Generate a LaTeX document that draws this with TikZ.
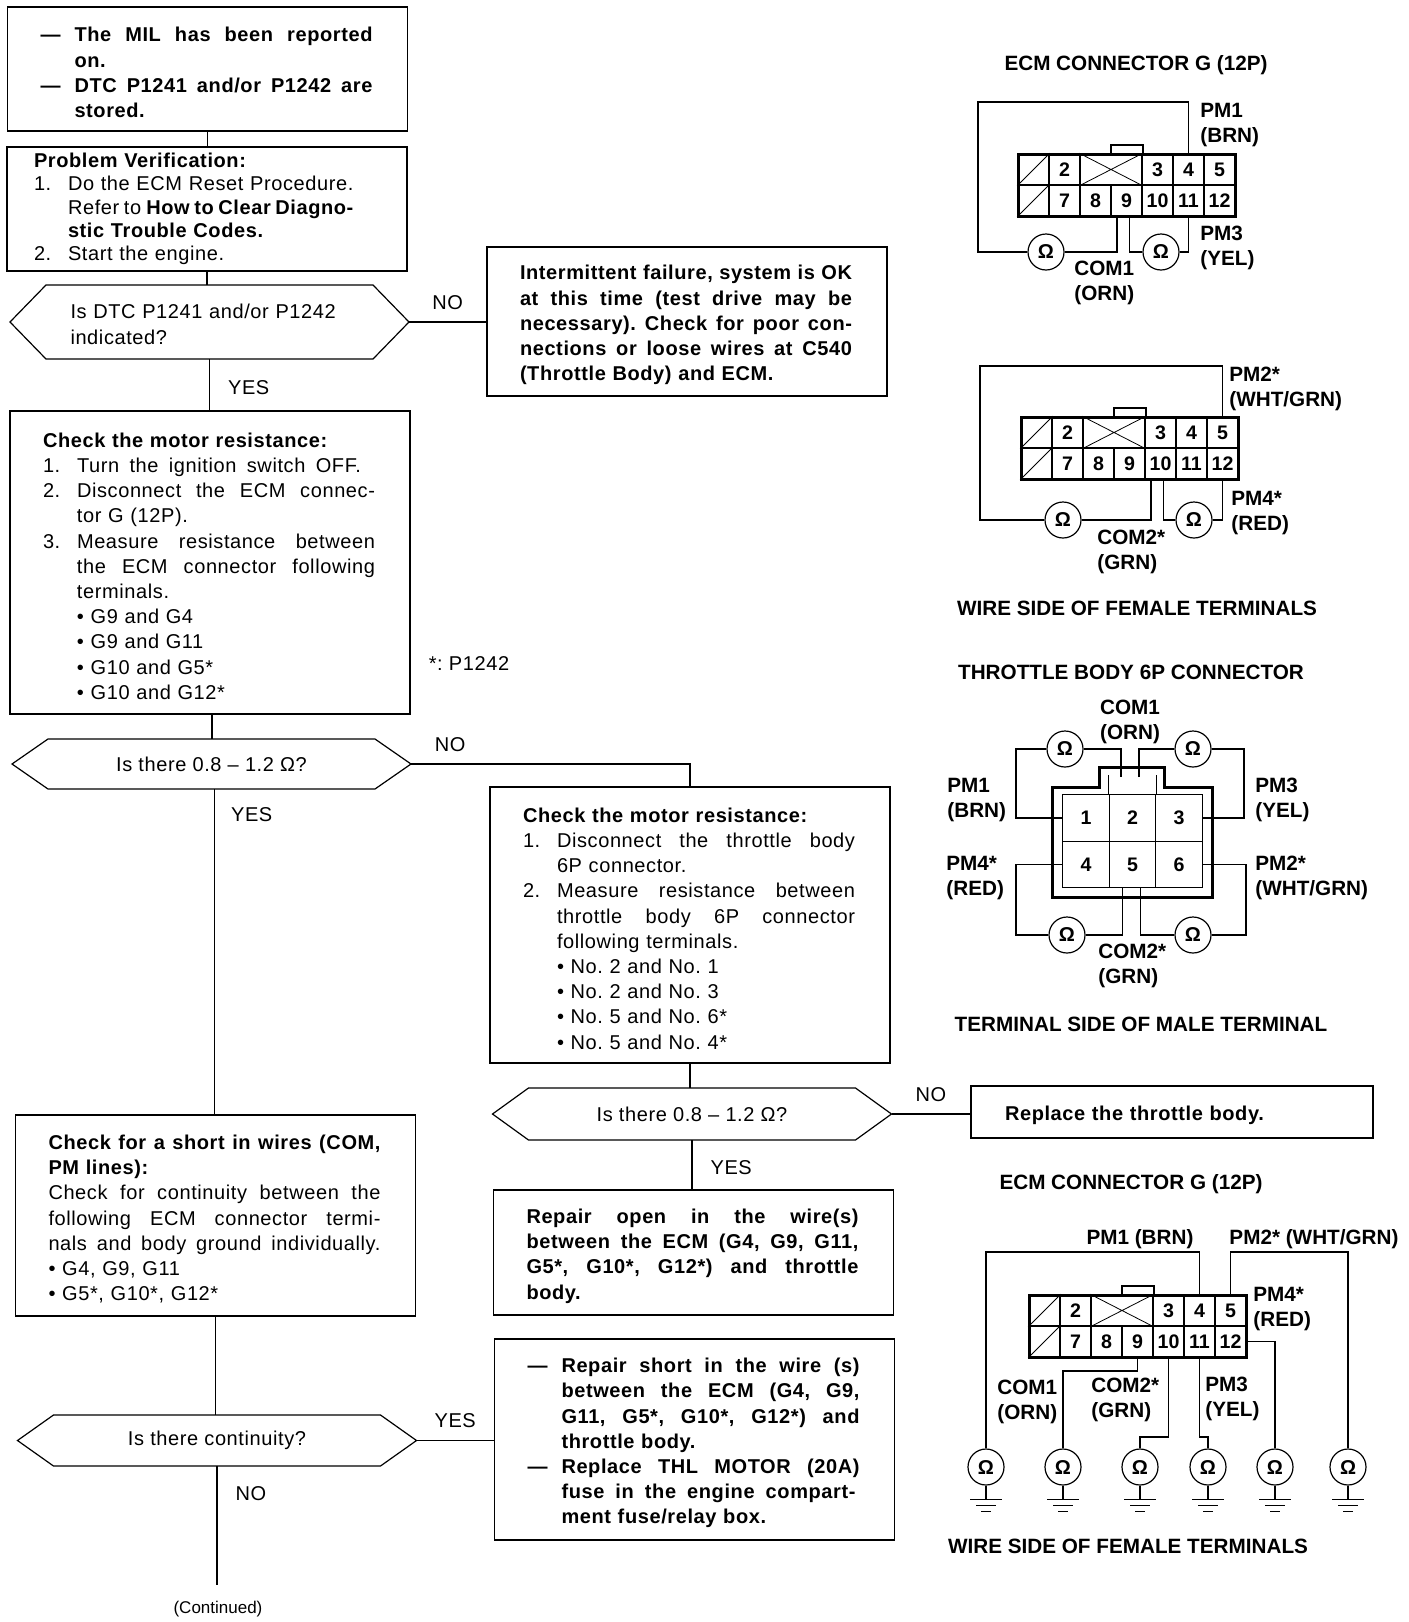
\documentclass[tikz,border=0pt]{standalone}
\usepackage{fontspec}
\setmainfont[LetterSpace=3]{Liberation Sans}
\newfontfamily\lblfont{Liberation Sans}
\newcommand{\lnum}[2]{\makebox[17pt][l]{#1}#2}
\newcommand{\indl}{\hspace*{17pt}}
\newcommand{\jl}[2]{\leavevmode\hbox to #1{\spaceskip=.3em plus 1fil minus .1em\relax #2}}
\frenchspacing
\tikzset{
  conntwelve/.pic={
    % upper and lower row of cells
    \foreach \n/\cx/\cy in {2/1/0,3/4/0,4/5/0,5/6/0,7/1/1,8/2/1,9/3/1,10/4/1,11/5/1,12/6/1}
      \node[cell] (-p\n) at (15.5+31*\cx,15.5+31*\cy) {\n};
    \node[cell,minimum width=31pt] (-px) at (93,15.5) {};
    \draw[thin] (-px.south west) -- (-px.north east) (-px.north west) -- (-px.south east);
    \node[cell] (-pa) at (15.5,15.5) {};
    \node[cell] (-pb) at (15.5,46.5) {};
    \draw[thin] (-pa.south west) -- (-pa.north east) (-pb.south west) -- (-pb.north east);
    \draw[conn] (0,0) rectangle (217,62);
    \draw[semithick] (93,0) -- (93,-9) -- (125,-9) -- (125,0);
  },
  gndsym/.pic={
    \draw[wire] (0,0) -- (0,14);
    \draw[wire] (-16,14) -- (16,14);
    \draw[wire] (-10,20) -- (10,20);
    \draw[wire] (-5,26) -- (5,26);
  }
}
\begin{document}
\begin{tikzpicture}[
      x=0.5pt, y=-0.5pt,
      font=\fontsize{10}{12.6}\selectfont,
      box/.style={draw, line width=0.6pt, minimum width=200pt, text width=167pt,
                  inner xsep=16.5pt, inner ysep=0pt, align=left,
                  execute at begin node={\rule{0pt}{10.8pt}}},
      thickbox/.style={draw, line width=1.3pt, minimum width=200pt, text width=173pt,
                  inner xsep=13.5pt, inner ysep=0pt, align=left},
      hexbox/.style={inner sep=0pt, outer sep=0pt, minimum width=199.5pt, align=center,
                  append after command={\pgfextra{\draw[line width=0.6pt]
                    (\tikzlastnode.west) -- ([xshift=18pt]\tikzlastnode.north west)
                    -- ([xshift=-18pt]\tikzlastnode.north east) -- (\tikzlastnode.east)
                    -- ([xshift=-18pt]\tikzlastnode.south east)
                    -- ([xshift=18pt]\tikzlastnode.south west) -- cycle;}}},
      arr/.style={line width=0.6pt},
      lab/.style={inner sep=2pt},
      ttl/.style={font=\lblfont\fontsize{10.35}{12.5}\selectfont\bfseries, inner sep=0pt, align=center, yshift=-1pt},
      tag/.style={ttl, align=left, anchor=west},
      cell/.style={draw, line width=0.8pt, minimum width=15.5pt, minimum height=15.5pt, inner sep=0pt,
                  font=\lblfont\fontsize{9.8}{12}\selectfont\bfseries},
      conn/.style={line width=1.5pt},
      wire/.style={line width=0.7pt},
      ohmc/.style={draw, circle, line width=0.6pt, minimum size=18pt, inner sep=0pt, fill=white,
                  font=\lblfont\fontsize{10}{12}\selectfont\bfseries}
    ]
    \useasboundingbox (0,0) rectangle (1408,1622);
    % Flow boxes
    \node[box,minimum height=62pt] (mil) at (207.5,69)
      {\bfseries\lnum{---}{\jl{149pt}{The MIL has been reported}}\\\indl on.\\\lnum{---}{\jl{149pt}{DTC P1241 and/or P1242 are}}\\\indl stored.};
    \node[thickbox,minimum height=62pt,font=\fontsize{10}{11.7}\selectfont] (verify) at (207,209)
      {\textbf{Problem Verification:}\\\lnum{1.}{Do the ECM Reset Procedure.}\\\indl\jl{143pt}{Refer to \textbf{How to Clear Diagno-}}\\\indl\textbf{stic Trouble Codes.}\\\lnum{2.}{Start the engine.}};
    \node[hexbox,minimum height=37pt,text width=139pt,align=left,execute at begin node={\rule{0pt}{9.6pt}}] (dtc) at (209.5,322)
      {Is DTC P1241 and/or P1242\\indicated?};
    \node[box,minimum height=74.5pt] (okbox) at (687,321.5)
      {\bfseries\jl{166pt}{Intermittent failure, system is OK}\\\jl{166pt}{at this time (test drive may be}\\\jl{166pt}{necessary). Check for poor con-}\\\jl{166pt}{nections or loose wires at C540}\\(Throttle Body) and ECM.};
    \node[box,minimum height=151.5pt] (motor) at (210,562.5)
      {\textbf{Check the motor resistance:}\\\lnum{1.}{\jl{142pt}{Turn the ignition switch OFF.}}\\\lnum{2.}{\jl{149pt}{Disconnect the ECM connec-}}\\\indl tor G (12P).\\\lnum{3.}{\jl{149pt}{Measure resistance between}}\\\indl\jl{149pt}{the ECM connector following}\\\indl terminals.\\\indl • G9 and G4\\\indl • G9 and G11\\\indl • G10 and G5*\\\indl • G10 and G12*};
    \node[lab] (star) at (469,664) {*: P1242};
    \node[hexbox,minimum height=25pt] (ohm) at (211.5,764)
      {Is there 0.8 -- 1.2 Ω?};
    \node[box,minimum height=138pt] (motorsix) at (690,925)
      {\textbf{Check the motor resistance:}\\\lnum{1.}{\jl{149pt}{Disconnect the throttle body}}\\\indl 6P connector.\\\lnum{2.}{\jl{149pt}{Measure resistance between}}\\\indl\jl{149pt}{throttle body 6P connector}\\\indl following terminals.\\\indl • No. 2 and No. 1\\\indl • No. 2 and No. 3\\\indl • No. 5 and No. 6*\\\indl • No. 5 and No. 4*};
    \node[hexbox,minimum height=26pt] (ohmsix) at (692,1114)
      {Is there 0.8 -- 1.2 Ω?};
    \node[box,minimum width=201pt,minimum height=26pt] (replace) at (1172,1112)
      {\bfseries Replace the throttle body.};
    \node[box,minimum height=62.5pt] (openw) at (693.5,1252.5)
      {\bfseries\jl{166pt}{Repair open in the wire(s)}\\\jl{166pt}{between the ECM (G4, G9, G11,}\\\jl{166pt}{G5*, G10*, G12*) and throttle}\\body.};
    \node[box,minimum height=100.5pt] (shortw) at (215.5,1215.5)
      {\textbf{\jl{166pt}{Check for a short in wires (COM,}}\\\textbf{PM lines):}\\\jl{166pt}{Check for continuity between the}\\\jl{166pt}{following ECM connector termi-}\\\jl{166pt}{nals and body ground individually.}\\• G4, G9, G11\\• G5*, G10*, G12*};
    \node[hexbox,minimum height=25.5pt] (contin) at (217,1440.5)
      {Is there continuity?};
    \node[box,minimum height=100.5pt] (repair) at (694.5,1439.5)
      {\bfseries\lnum{---}{\jl{149pt}{Repair short in the wire (s)}}\\\indl\jl{149pt}{between the ECM (G4, G9,}\\\indl\jl{149pt}{G11, G5*, G10*, G12*) and}\\\indl throttle body.\\\lnum{---}{\jl{149pt}{Replace THL MOTOR (20A)}}\\\indl\jl{147pt}{fuse in the engine compart-}\\\indl ment fuse/relay box.};
    \node[font=\lblfont\fontsize{8.5}{10}\selectfont,inner sep=0pt] (contd) at (218,1609) {(Continued)};
    \coordinate (contend) at (216,1585);
    % Flow arrows
    \draw[arr] (mil.south) -- (mil.south |- verify.north);
    \draw[arr] (verify.south) -- (verify.south |- dtc.north);
    \draw[arr] (dtc.east) -- node[lab,above,pos=.5,yshift=4pt]{NO} (dtc.east -| okbox.west);
    \draw[arr] (dtc.south) -- node[lab,right,xshift=7pt,pos=.55]{YES} (dtc.south |- motor.north);
    \draw[arr] ([xshift=1pt]motor.south) -- ([xshift=1pt]motor.south |- ohm.north);
    \draw[arr] (ohm.east) -| node[lab,above,pos=.07,yshift=4pt]{NO} (motorsix.north);
    \draw[arr] ([xshift=1.5pt]ohm.south) -- node[lab,right,xshift=6pt,pos=.08]{YES} ([xshift=1.5pt]ohm.south |- shortw.north);
    \draw[arr] (motorsix.south) -- (motorsix.south |- ohmsix.north);
    \draw[arr] (ohmsix.east) -- node[lab,above,yshift=4pt]{NO} (ohmsix.east -| replace.west);
    \draw[arr] (ohmsix.south) -- node[lab,right,xshift=7pt,yshift=-1.5pt]{YES} (ohmsix.south |- openw.north);
    \draw[arr] (shortw.south) -- (shortw.south |- contin.north);
    \draw[arr] (contin.east) -- node[lab,above,yshift=4pt]{YES} (contin.east -| repair.west);
    \draw[arr] (contin.south) -- node[lab,right,xshift=7pt,pos=.23]{NO} (contin.south |- contend);
    % ECM connector, COM1 set
    \node[ttl] (ttlone) at (1136,63) {ECM CONNECTOR G (12P)};
    \pic (gone) at (1018,154) {conntwelve};
    \node[ohmc] (oa) at (1046,252) {Ω};
    \node[ohmc] (ob) at (1161,252) {Ω};
    \draw[wire] (gone-p4.north) |- (978,102) -- (978,252) -- (oa);
    \draw[wire] (oa) -| ([xshift=-4.8pt]gone-p9.south);
    \draw[wire] ([xshift=1.4pt]gone-p9.south) |- (ob);
    \draw[wire] (ob) -| (gone-p11.south);
    \node[tag] (pma) at (1200,123) {PM1\\(BRN)};
    \node[tag] (pmc) at (1200,246) {PM3\\(YEL)};
    \node[tag] (coma) at (1074,281) {COM1\\(ORN)};
    % ECM connector, COM2 set
    \pic (gtwo) at (1021,417) {conntwelve};
    \node[ohmc] (oc) at (1063,520) {Ω};
    \node[ohmc] (od) at (1194,520) {Ω};
    \draw[wire] (gtwo-p5.north) |- (980,366) -- (980,520) -- (oc);
    \draw[wire] (oc) -| ([xshift=-4.8pt]gtwo-p10.south);
    \draw[wire] ([xshift=1.4pt]gtwo-p10.south) |- (od);
    \draw[wire] (od) -| (gtwo-p12.south);
    \node[tag] (pmb) at (1229,387) {PM2*\\(WHT/GRN)};
    \node[tag] (pmd) at (1231,511) {PM4*\\(RED)};
    \node[tag] (comb) at (1097,550) {COM2*\\(GRN)};
    \node[ttl] (ttltwo) at (1137,606) {WIRE SIDE OF FEMALE TERMINALS};
    % Throttle body connector
    \node[ttl] (ttlthree) at (1131,670.5) {THROTTLE BODY 6P CONNECTOR};
    \foreach \n/\cx/\cy in {1/1086/818,2/1132.5/818,3/1179/818,4/1086/864.5,5/1132.5/864.5,6/1179/864.5}
      \node[cell,line width=0.5pt,minimum width=23.25pt,minimum height=23.25pt] (t\n) at (\cx,\cy) {\n};
    \draw[line width=0.5pt] (t2.north west) -- ++(0,-19) (t2.north east) -- ++(0,-19);
    \draw[conn] (1052,897) -- (1052,787) -- (1099,787) -- (1099,767) -- (1164,767) -- (1164,787) -- (1212,787) -- (1212,897) -- cycle;
    \node[ohmc] (oe) at (1065,749) {Ω};
    \node[ohmc] (of) at (1193,749) {Ω};
    \node[ohmc] (og) at (1067,935) {Ω};
    \node[ohmc] (oh) at (1193,935) {Ω};
    \draw[wire] (t1.west) -- (1016,818) -- (1016,749) -- (oe);
    \draw[wire] (oe) -| (1121,777);
    \draw[wire] (1139,777) |- (of);
    \draw[wire] (of) -- (1244,749) -- (1244,818) -- (t3.east);
    \draw[wire] (t4.west) -- (1016,864.5) -- (1016,935) -- (og);
    \draw[wire] (og) -| ([xshift=-5pt]t5.south);
    \draw[wire] ([xshift=4pt]t5.south) |- (oh);
    \draw[wire] (oh) -- (1246,935) -- (1246,864.5) -- (t6.east);
    \node[ttl] (comc) at (1130,720) {COM1\\(ORN)};
    \node[tag] (pme) at (947,798) {PM1\\(BRN)};
    \node[tag] (pmf) at (1255,798) {PM3\\(YEL)};
    \node[tag] (pmg) at (946,876) {PM4*\\(RED)};
    \node[tag] (pmh) at (1255,876) {PM2*\\(WHT/GRN)};
    \node[tag] (comd) at (1098,964) {COM2*\\(GRN)};
    \node[ttl] (ttlfour) at (1141,1022) {TERMINAL SIDE OF MALE TERMINAL};
    % ECM connector to body ground
    \node[ttl] (ttlfive) at (1131,1182) {ECM CONNECTOR G (12P)};
    \pic (gthree) at (1029,1295) {conntwelve};
    \foreach \n/\cx in {i/986,j/1063,k/1140,l/1208,m/1275,n/1348} {
      \node[ohmc] (o\n) at (\cx,1467) {Ω};
      \pic at (o\n.south) {gndsym};
    }
    \draw[wire] (gthree-p4.north) |- (986,1252) -- (oi);
    \draw[wire] (gthree-p5.north) |- (1348,1252) -- (on);
    \draw[wire] (gthree-p9.south) |- (1063,1371) -- (oj);
    \draw[wire] (gthree-p10.south) |- (1140,1437) -- (ok);
    \draw[wire] (gthree-p11.south) |- (1208,1437) -- (ol);
    \draw[wire] (gthree-p12.east) -| (om);
    \node[ttl] (pmi) at (1140,1237) {PM1 (BRN)};
    \node[ttl] (pmj) at (1314,1237) {PM2* (WHT/GRN)};
    \node[tag] (pmk) at (1253,1307) {PM4*\\(RED)};
    \node[tag] (come) at (997,1400) {COM1\\(ORN)};
    \node[tag] (comf) at (1091,1398) {COM2*\\(GRN)};
    \node[tag] (pml) at (1205,1397) {PM3\\(YEL)};
    \node[ttl] (ttlsix) at (1128,1544) {WIRE SIDE OF FEMALE TERMINALS};
  \end{tikzpicture}
\end{document}
